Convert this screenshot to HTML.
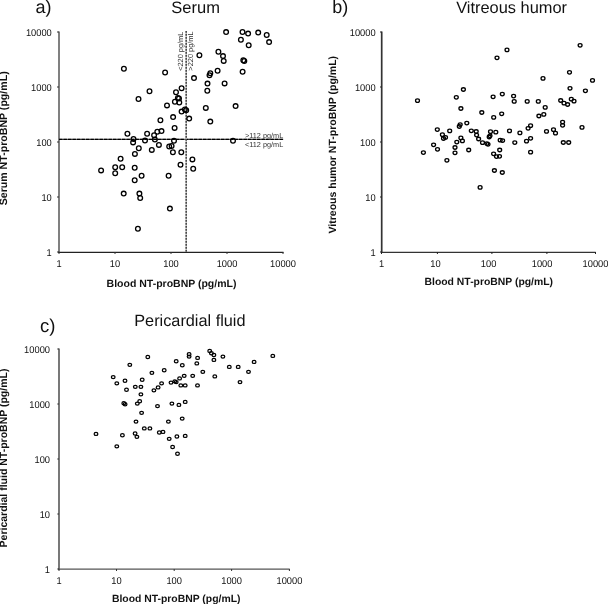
<!DOCTYPE html>
<html><head><meta charset="utf-8"><title>NT-proBNP scatter plots</title>
<style>
html,body{margin:0;padding:0;background:#fff;}
body{width:608px;height:604px;overflow:hidden;font-family:"Liberation Sans",sans-serif;}
svg{display:block;filter:grayscale(1);text-rendering:geometricPrecision;}
</style></head><body>
<svg width="608" height="604" viewBox="0 0 608 604" font-family="Liberation Sans, sans-serif">
<rect width="608" height="604" fill="#fff"/>
<g id="pa">
<text x="35.6" y="12.8" font-size="18" fill="#111">a)</text>
<text x="195.6" y="13.1" font-size="16.5" text-anchor="middle" fill="#111">Serum</text>
<line x1="59" y1="31.5" x2="59" y2="252.5" stroke="#7a7a7a" stroke-width="1.9"/>
<line x1="58" y1="252.4" x2="283.5" y2="252.4" stroke="#222" stroke-width="1.1"/>
<line x1="57" y1="32" x2="59" y2="32" stroke="#333" stroke-width="1"/>
<text transform="translate(51.8,35.5) scale(0.95,1)" font-size="9.8" text-anchor="end" fill="#111">10000</text>
<line x1="57" y1="87" x2="59" y2="87" stroke="#333" stroke-width="1"/>
<text transform="translate(51.8,90.5) scale(0.95,1)" font-size="9.8" text-anchor="end" fill="#111">1000</text>
<line x1="57" y1="142" x2="59" y2="142" stroke="#333" stroke-width="1"/>
<text transform="translate(51.8,145.5) scale(0.95,1)" font-size="9.8" text-anchor="end" fill="#111">100</text>
<line x1="57" y1="197" x2="59" y2="197" stroke="#333" stroke-width="1"/>
<text transform="translate(51.8,200.5) scale(0.95,1)" font-size="9.8" text-anchor="end" fill="#111">10</text>
<line x1="57" y1="252" x2="59" y2="252" stroke="#333" stroke-width="1"/>
<text transform="translate(51.8,255.5) scale(0.95,1)" font-size="9.8" text-anchor="end" fill="#111">1</text>
<line x1="59" y1="252" x2="59" y2="254" stroke="#333" stroke-width="1"/>
<text transform="translate(59,267.0) scale(0.95,1)" font-size="9.8" text-anchor="middle" fill="#111">1</text>
<line x1="115" y1="252" x2="115" y2="254" stroke="#333" stroke-width="1"/>
<text transform="translate(115,267.0) scale(0.95,1)" font-size="9.8" text-anchor="middle" fill="#111">10</text>
<line x1="171" y1="252" x2="171" y2="254" stroke="#333" stroke-width="1"/>
<text transform="translate(171,267.0) scale(0.95,1)" font-size="9.8" text-anchor="middle" fill="#111">100</text>
<line x1="227" y1="252" x2="227" y2="254" stroke="#333" stroke-width="1"/>
<text transform="translate(227,267.0) scale(0.95,1)" font-size="9.8" text-anchor="middle" fill="#111">1000</text>
<line x1="283" y1="252" x2="283" y2="254" stroke="#333" stroke-width="1"/>
<text transform="translate(283,267.0) scale(0.95,1)" font-size="9.8" text-anchor="middle" fill="#111">10000</text>
<text x="171.5" y="287.2" font-size="10.5" font-weight="bold" text-anchor="middle" fill="#111">Blood NT-proBNP (pg/mL)</text>
<text transform="translate(6.7,138.3) rotate(-90)" font-size="10.6" font-weight="bold" text-anchor="middle" fill="#111">Serum NT-proBNP (pg/mL)</text>
<line x1="59" y1="139.4" x2="283.2" y2="139.4" stroke="#555" stroke-width="1.1"/>
<line x1="59" y1="139.4" x2="283.2" y2="139.4" stroke="#000" stroke-width="1.1" stroke-dasharray="3.4 1.1"/>
<line x1="186.2" y1="31" x2="186.2" y2="252" stroke="#bbb" stroke-width="1.5"/>
<line x1="186.2" y1="31" x2="186.2" y2="252" stroke="#444" stroke-width="1.5" stroke-dasharray="1.8 1.2"/>
<text x="283.2" y="137.6" font-size="7.3" text-anchor="end" fill="#333">&gt;112 pg/mL</text>
<text x="283.2" y="147.0" font-size="7.3" text-anchor="end" fill="#333">&lt;112 pg/mL</text>
<text transform="translate(182.9,31.6) rotate(-90)" font-size="7.4" text-anchor="end" fill="#333">&lt;220 pg/mL</text>
<text transform="translate(192.9,31.4) rotate(-90)" font-size="7.4" text-anchor="end" fill="#333">&gt;220 pg/mL</text>
<g fill="none" stroke="#000" stroke-width="1.3">
<ellipse cx="123.9" cy="68.8" rx="2.35" ry="2.35"/>
<ellipse cx="165.1" cy="72.5" rx="2.35" ry="2.35"/>
<ellipse cx="149.5" cy="91.2" rx="2.35" ry="2.35"/>
<ellipse cx="138.5" cy="99.0" rx="2.35" ry="2.35"/>
<ellipse cx="167.0" cy="105.4" rx="2.35" ry="2.35"/>
<ellipse cx="160.4" cy="120.2" rx="2.35" ry="2.35"/>
<ellipse cx="127.4" cy="133.7" rx="2.35" ry="2.35"/>
<ellipse cx="147.1" cy="133.7" rx="2.35" ry="2.35"/>
<ellipse cx="157.3" cy="131.8" rx="2.35" ry="2.35"/>
<ellipse cx="161.5" cy="131.1" rx="2.35" ry="2.35"/>
<ellipse cx="154.1" cy="135.2" rx="2.35" ry="2.35"/>
<ellipse cx="226.1" cy="32.1" rx="2.35" ry="2.35"/>
<ellipse cx="242.5" cy="32.0" rx="2.35" ry="2.35"/>
<ellipse cx="248.1" cy="33.6" rx="2.35" ry="2.35"/>
<ellipse cx="258.2" cy="32.6" rx="2.35" ry="2.35"/>
<ellipse cx="266.7" cy="35.0" rx="2.35" ry="2.35"/>
<ellipse cx="269.1" cy="42.1" rx="2.35" ry="2.35"/>
<ellipse cx="240.9" cy="39.7" rx="2.35" ry="2.35"/>
<ellipse cx="248.7" cy="45.3" rx="2.35" ry="2.35"/>
<ellipse cx="218.4" cy="51.7" rx="2.35" ry="2.35"/>
<ellipse cx="223.0" cy="56.1" rx="2.35" ry="2.35"/>
<ellipse cx="223.7" cy="60.9" rx="2.35" ry="2.35"/>
<ellipse cx="243.3" cy="60.2" rx="2.35" ry="2.35"/>
<ellipse cx="244.3" cy="61.0" rx="2.35" ry="2.35"/>
<ellipse cx="199.4" cy="55.2" rx="2.35" ry="2.35"/>
<ellipse cx="217.6" cy="70.8" rx="2.35" ry="2.35"/>
<ellipse cx="210.3" cy="73.3" rx="2.35" ry="2.35"/>
<ellipse cx="209.5" cy="75.3" rx="2.35" ry="2.35"/>
<ellipse cx="242.6" cy="71.7" rx="2.35" ry="2.35"/>
<ellipse cx="194.0" cy="78.1" rx="2.35" ry="2.35"/>
<ellipse cx="207.5" cy="83.6" rx="2.35" ry="2.35"/>
<ellipse cx="224.6" cy="83.4" rx="2.35" ry="2.35"/>
<ellipse cx="207.3" cy="90.8" rx="2.35" ry="2.35"/>
<ellipse cx="181.6" cy="88.2" rx="2.35" ry="2.35"/>
<ellipse cx="176.0" cy="92.2" rx="2.35" ry="2.35"/>
<ellipse cx="177.9" cy="97.9" rx="2.35" ry="2.35"/>
<ellipse cx="179.0" cy="98.5" rx="2.35" ry="2.35"/>
<ellipse cx="174.9" cy="101.8" rx="2.35" ry="2.35"/>
<ellipse cx="179.3" cy="102.5" rx="2.35" ry="2.35"/>
<ellipse cx="205.8" cy="107.9" rx="2.35" ry="2.35"/>
<ellipse cx="235.6" cy="106.1" rx="2.35" ry="2.35"/>
<ellipse cx="184.9" cy="109.5" rx="2.35" ry="2.35"/>
<ellipse cx="186.2" cy="110.2" rx="2.35" ry="2.35"/>
<ellipse cx="181.6" cy="111.6" rx="2.35" ry="2.35"/>
<ellipse cx="173.1" cy="117.1" rx="2.35" ry="2.35"/>
<ellipse cx="189.2" cy="118.6" rx="2.35" ry="2.35"/>
<ellipse cx="210.3" cy="121.6" rx="2.35" ry="2.35"/>
<ellipse cx="174.6" cy="127.9" rx="2.35" ry="2.35"/>
<ellipse cx="174.0" cy="140.8" rx="2.35" ry="2.35"/>
<ellipse cx="233.0" cy="140.7" rx="2.35" ry="2.35"/>
<ellipse cx="133.5" cy="139.0" rx="2.35" ry="2.35"/>
<ellipse cx="133.1" cy="142.4" rx="2.35" ry="2.35"/>
<ellipse cx="145.0" cy="140.6" rx="2.35" ry="2.35"/>
<ellipse cx="154.9" cy="139.6" rx="2.35" ry="2.35"/>
<ellipse cx="158.9" cy="144.9" rx="2.35" ry="2.35"/>
<ellipse cx="169.2" cy="146.5" rx="2.35" ry="2.35"/>
<ellipse cx="171.6" cy="145.9" rx="2.35" ry="2.35"/>
<ellipse cx="172.9" cy="152.3" rx="2.35" ry="2.35"/>
<ellipse cx="138.8" cy="148.3" rx="2.35" ry="2.35"/>
<ellipse cx="151.8" cy="149.9" rx="2.35" ry="2.35"/>
<ellipse cx="134.9" cy="153.9" rx="2.35" ry="2.35"/>
<ellipse cx="120.6" cy="158.8" rx="2.35" ry="2.35"/>
<ellipse cx="115.2" cy="167.2" rx="2.35" ry="2.35"/>
<ellipse cx="122.2" cy="167.2" rx="2.35" ry="2.35"/>
<ellipse cx="134.7" cy="167.8" rx="2.35" ry="2.35"/>
<ellipse cx="101.1" cy="170.4" rx="2.35" ry="2.35"/>
<ellipse cx="115.2" cy="173.3" rx="2.35" ry="2.35"/>
<ellipse cx="141.6" cy="175.7" rx="2.35" ry="2.35"/>
<ellipse cx="168.6" cy="175.7" rx="2.35" ry="2.35"/>
<ellipse cx="134.7" cy="180.3" rx="2.35" ry="2.35"/>
<ellipse cx="123.7" cy="193.6" rx="2.35" ry="2.35"/>
<ellipse cx="139.4" cy="193.6" rx="2.35" ry="2.35"/>
<ellipse cx="140.2" cy="198.0" rx="2.35" ry="2.35"/>
<ellipse cx="169.9" cy="208.6" rx="2.35" ry="2.35"/>
<ellipse cx="137.9" cy="228.8" rx="2.35" ry="2.35"/>
<ellipse cx="181.3" cy="152.3" rx="2.35" ry="2.35"/>
<ellipse cx="192.4" cy="159.4" rx="2.35" ry="2.35"/>
<ellipse cx="180.5" cy="164.8" rx="2.35" ry="2.35"/>
<ellipse cx="193.2" cy="168.8" rx="2.35" ry="2.35"/>
</g>
</g>
<g id="pb">
<text x="332.2" y="12.8" font-size="18" fill="#111">b)</text>
<text x="511.6" y="12.6" font-size="16.4" text-anchor="middle" fill="#111">Vitreous humor</text>
<line x1="381.7" y1="31.5" x2="381.7" y2="252.5" stroke="#333" stroke-width="1.7"/>
<line x1="381" y1="252.3" x2="595.7" y2="252.3" stroke="#333" stroke-width="1.3"/>
<line x1="380" y1="32" x2="381.7" y2="32" stroke="#222" stroke-width="1"/>
<text transform="translate(375.6,35.5) scale(0.95,1)" font-size="9.8" text-anchor="end" fill="#111">10000</text>
<line x1="380" y1="87" x2="381.7" y2="87" stroke="#222" stroke-width="1"/>
<text transform="translate(375.6,90.5) scale(0.95,1)" font-size="9.8" text-anchor="end" fill="#111">1000</text>
<line x1="380" y1="142" x2="381.7" y2="142" stroke="#222" stroke-width="1"/>
<text transform="translate(375.6,145.5) scale(0.95,1)" font-size="9.8" text-anchor="end" fill="#111">100</text>
<line x1="380" y1="197" x2="381.7" y2="197" stroke="#222" stroke-width="1"/>
<text transform="translate(375.6,200.5) scale(0.95,1)" font-size="9.8" text-anchor="end" fill="#111">10</text>
<line x1="380" y1="252" x2="381.7" y2="252" stroke="#222" stroke-width="1"/>
<text transform="translate(375.6,255.5) scale(0.95,1)" font-size="9.8" text-anchor="end" fill="#111">1</text>
<line x1="381.5" y1="252" x2="381.5" y2="254" stroke="#222" stroke-width="1"/>
<line x1="437.4" y1="252" x2="437.4" y2="254" stroke="#222" stroke-width="1"/>
<line x1="491.9" y1="252" x2="491.9" y2="254" stroke="#222" stroke-width="1"/>
<line x1="546.9" y1="252" x2="546.9" y2="254" stroke="#222" stroke-width="1"/>
<line x1="595.5" y1="252" x2="595.5" y2="254" stroke="#222" stroke-width="1"/>
<text transform="translate(381.5,267.0) scale(0.95,1)" font-size="9.8" text-anchor="middle" fill="#111">1</text>
<text transform="translate(435.4,267.0) scale(0.95,1)" font-size="9.8" text-anchor="middle" fill="#111">10</text>
<text transform="translate(488.6,267.0) scale(0.95,1)" font-size="9.8" text-anchor="middle" fill="#111">100</text>
<text transform="translate(542.1,267.0) scale(0.95,1)" font-size="9.8" text-anchor="middle" fill="#111">1000</text>
<text transform="translate(595.5,267.0) scale(0.95,1)" font-size="9.8" text-anchor="middle" fill="#111">10000</text>
<text x="488.8" y="284.9" font-size="10.4" font-weight="bold" text-anchor="middle" fill="#111">Blood NT-proBNP (pg/mL)</text>
<text transform="translate(336.4,144.7) rotate(-90)" font-size="10.5" font-weight="bold" text-anchor="middle" fill="#111">Vitreous humor NT-proBNP (pg/mL)</text>
<g fill="none" stroke="#000" stroke-width="1.3">
<ellipse cx="417.5" cy="100.7" rx="1.95" ry="1.75"/>
<ellipse cx="456.3" cy="97.3" rx="1.95" ry="1.75"/>
<ellipse cx="437.3" cy="129.6" rx="1.95" ry="1.75"/>
<ellipse cx="449.7" cy="130.9" rx="1.95" ry="1.75"/>
<ellipse cx="442.4" cy="134.7" rx="1.95" ry="1.75"/>
<ellipse cx="445.5" cy="137.4" rx="1.95" ry="1.75"/>
<ellipse cx="443.5" cy="138.5" rx="1.95" ry="1.75"/>
<ellipse cx="433.6" cy="144.8" rx="1.95" ry="1.75"/>
<ellipse cx="437.5" cy="149.3" rx="1.95" ry="1.75"/>
<ellipse cx="423.4" cy="152.6" rx="1.95" ry="1.75"/>
<ellipse cx="446.9" cy="160.3" rx="1.95" ry="1.75"/>
<ellipse cx="507.0" cy="49.9" rx="1.95" ry="1.75"/>
<ellipse cx="497.0" cy="57.8" rx="1.95" ry="1.75"/>
<ellipse cx="463.4" cy="89.5" rx="1.95" ry="1.75"/>
<ellipse cx="493.1" cy="96.8" rx="1.95" ry="1.75"/>
<ellipse cx="502.3" cy="94.1" rx="1.95" ry="1.75"/>
<ellipse cx="513.6" cy="96.1" rx="1.95" ry="1.75"/>
<ellipse cx="514.2" cy="101.4" rx="1.95" ry="1.75"/>
<ellipse cx="527.2" cy="101.4" rx="1.95" ry="1.75"/>
<ellipse cx="580.1" cy="45.3" rx="1.95" ry="1.75"/>
<ellipse cx="569.5" cy="72.3" rx="1.95" ry="1.75"/>
<ellipse cx="543.0" cy="78.4" rx="1.95" ry="1.75"/>
<ellipse cx="592.5" cy="80.4" rx="1.95" ry="1.75"/>
<ellipse cx="570.0" cy="88.3" rx="1.95" ry="1.75"/>
<ellipse cx="585.4" cy="90.8" rx="1.95" ry="1.75"/>
<ellipse cx="538.3" cy="101.4" rx="1.95" ry="1.75"/>
<ellipse cx="560.7" cy="100.5" rx="1.95" ry="1.75"/>
<ellipse cx="571.3" cy="99.2" rx="1.95" ry="1.75"/>
<ellipse cx="574.0" cy="101.2" rx="1.95" ry="1.75"/>
<ellipse cx="564.0" cy="103.2" rx="1.95" ry="1.75"/>
<ellipse cx="567.6" cy="104.5" rx="1.95" ry="1.75"/>
<ellipse cx="460.9" cy="108.5" rx="1.95" ry="1.75"/>
<ellipse cx="481.8" cy="112.5" rx="1.95" ry="1.75"/>
<ellipse cx="493.7" cy="117.4" rx="1.95" ry="1.75"/>
<ellipse cx="501.7" cy="113.8" rx="1.95" ry="1.75"/>
<ellipse cx="466.8" cy="123.1" rx="1.95" ry="1.75"/>
<ellipse cx="460.2" cy="124.6" rx="1.95" ry="1.75"/>
<ellipse cx="459.3" cy="126.5" rx="1.95" ry="1.75"/>
<ellipse cx="471.3" cy="130.8" rx="1.95" ry="1.75"/>
<ellipse cx="476.2" cy="131.5" rx="1.95" ry="1.75"/>
<ellipse cx="476.6" cy="135.1" rx="1.95" ry="1.75"/>
<ellipse cx="478.6" cy="139.0" rx="1.95" ry="1.75"/>
<ellipse cx="482.5" cy="142.7" rx="1.95" ry="1.75"/>
<ellipse cx="486.9" cy="143.6" rx="1.95" ry="1.75"/>
<ellipse cx="488.0" cy="144.3" rx="1.95" ry="1.75"/>
<ellipse cx="490.5" cy="131.7" rx="1.95" ry="1.75"/>
<ellipse cx="495.8" cy="132.2" rx="1.95" ry="1.75"/>
<ellipse cx="490.0" cy="135.8" rx="1.95" ry="1.75"/>
<ellipse cx="489.2" cy="137.0" rx="1.95" ry="1.75"/>
<ellipse cx="509.5" cy="130.9" rx="1.95" ry="1.75"/>
<ellipse cx="519.9" cy="132.9" rx="1.95" ry="1.75"/>
<ellipse cx="500.2" cy="140.2" rx="1.95" ry="1.75"/>
<ellipse cx="502.6" cy="140.6" rx="1.95" ry="1.75"/>
<ellipse cx="514.8" cy="142.6" rx="1.95" ry="1.75"/>
<ellipse cx="528.1" cy="128.3" rx="1.95" ry="1.75"/>
<ellipse cx="526.5" cy="141.2" rx="1.95" ry="1.75"/>
<ellipse cx="460.9" cy="137.9" rx="1.95" ry="1.75"/>
<ellipse cx="462.4" cy="140.9" rx="1.95" ry="1.75"/>
<ellipse cx="456.8" cy="142.1" rx="1.95" ry="1.75"/>
<ellipse cx="455.0" cy="147.5" rx="1.95" ry="1.75"/>
<ellipse cx="455.0" cy="152.8" rx="1.95" ry="1.75"/>
<ellipse cx="468.7" cy="150.0" rx="1.95" ry="1.75"/>
<ellipse cx="499.7" cy="150.0" rx="1.95" ry="1.75"/>
<ellipse cx="493.6" cy="153.8" rx="1.95" ry="1.75"/>
<ellipse cx="496.5" cy="156.6" rx="1.95" ry="1.75"/>
<ellipse cx="499.5" cy="156.3" rx="1.95" ry="1.75"/>
<ellipse cx="545.2" cy="107.4" rx="1.95" ry="1.75"/>
<ellipse cx="543.8" cy="114.4" rx="1.95" ry="1.75"/>
<ellipse cx="538.9" cy="116.0" rx="1.95" ry="1.75"/>
<ellipse cx="530.6" cy="125.7" rx="1.95" ry="1.75"/>
<ellipse cx="546.5" cy="131.4" rx="1.95" ry="1.75"/>
<ellipse cx="553.5" cy="129.7" rx="1.95" ry="1.75"/>
<ellipse cx="555.5" cy="133.2" rx="1.95" ry="1.75"/>
<ellipse cx="562.6" cy="122.1" rx="1.95" ry="1.75"/>
<ellipse cx="562.6" cy="125.3" rx="1.95" ry="1.75"/>
<ellipse cx="582.0" cy="127.4" rx="1.95" ry="1.75"/>
<ellipse cx="530.6" cy="138.3" rx="1.95" ry="1.75"/>
<ellipse cx="563.3" cy="142.5" rx="1.95" ry="1.75"/>
<ellipse cx="568.7" cy="142.5" rx="1.95" ry="1.75"/>
<ellipse cx="530.6" cy="152.2" rx="1.95" ry="1.75"/>
<ellipse cx="494.4" cy="170.5" rx="1.95" ry="1.75"/>
<ellipse cx="502.3" cy="172.5" rx="1.95" ry="1.75"/>
<ellipse cx="480.1" cy="187.4" rx="1.95" ry="1.75"/>
</g>
</g>
<g id="pc">
<text x="40.0" y="331.5" font-size="18.5" fill="#111">c)</text>
<text x="189.9" y="326.2" font-size="16.3" text-anchor="middle" fill="#111">Pericardial fluid</text>
<line x1="59" y1="348.5" x2="59" y2="569.5" stroke="#6a6a6a" stroke-width="1.8"/>
<line x1="58" y1="569.1" x2="289.7" y2="569.1" stroke="#555" stroke-width="1.4"/>
<line x1="57.3" y1="349" x2="59" y2="349" stroke="#333" stroke-width="1"/>
<text transform="translate(50.0,352.7) scale(0.95,1)" font-size="9.8" text-anchor="end" fill="#111">10000</text>
<line x1="57.3" y1="404" x2="59" y2="404" stroke="#333" stroke-width="1"/>
<text transform="translate(50.0,407.7) scale(0.95,1)" font-size="9.8" text-anchor="end" fill="#111">1000</text>
<line x1="57.3" y1="459" x2="59" y2="459" stroke="#333" stroke-width="1"/>
<text transform="translate(50.0,462.7) scale(0.95,1)" font-size="9.8" text-anchor="end" fill="#111">100</text>
<line x1="57.3" y1="514" x2="59" y2="514" stroke="#333" stroke-width="1"/>
<text transform="translate(50.0,517.7) scale(0.95,1)" font-size="9.8" text-anchor="end" fill="#111">10</text>
<line x1="57.3" y1="569" x2="59" y2="569" stroke="#333" stroke-width="1"/>
<text transform="translate(50.0,572.7) scale(0.95,1)" font-size="9.8" text-anchor="end" fill="#111">1</text>
<line x1="59" y1="569" x2="59" y2="571" stroke="#333" stroke-width="1"/>
<text transform="translate(59,583.5) scale(0.95,1)" font-size="9.8" text-anchor="middle" fill="#111">1</text>
<line x1="116.5" y1="569" x2="116.5" y2="571" stroke="#333" stroke-width="1"/>
<text transform="translate(116.5,583.5) scale(0.95,1)" font-size="9.8" text-anchor="middle" fill="#111">10</text>
<line x1="174.2" y1="569" x2="174.2" y2="571" stroke="#333" stroke-width="1"/>
<text transform="translate(174.2,583.5) scale(0.95,1)" font-size="9.8" text-anchor="middle" fill="#111">100</text>
<line x1="231.6" y1="569" x2="231.6" y2="571" stroke="#333" stroke-width="1"/>
<text transform="translate(231.6,583.5) scale(0.95,1)" font-size="9.8" text-anchor="middle" fill="#111">1000</text>
<line x1="289.4" y1="569" x2="289.4" y2="571" stroke="#333" stroke-width="1"/>
<text transform="translate(289.4,583.5) scale(0.95,1)" font-size="9.8" text-anchor="middle" fill="#111">10000</text>
<text x="176.2" y="601.8" font-size="10.4" font-weight="bold" text-anchor="middle" fill="#111">Blood NT-proBNP (pg/mL)</text>
<text transform="translate(7.4,458.0) rotate(-90)" font-size="10.5" font-weight="bold" text-anchor="middle" fill="#111">Pericardial fluid NT-proBNP (pg/mL)</text>
<g fill="none" stroke="#000" stroke-width="1.25">
<ellipse cx="147.8" cy="357.0" rx="1.85" ry="1.55"/>
<ellipse cx="129.8" cy="364.8" rx="1.85" ry="1.55"/>
<ellipse cx="164.2" cy="370.2" rx="1.85" ry="1.55"/>
<ellipse cx="151.9" cy="372.8" rx="1.85" ry="1.55"/>
<ellipse cx="113.2" cy="377.1" rx="1.85" ry="1.55"/>
<ellipse cx="116.8" cy="383.3" rx="1.85" ry="1.55"/>
<ellipse cx="125.0" cy="380.7" rx="1.85" ry="1.55"/>
<ellipse cx="142.2" cy="379.7" rx="1.85" ry="1.55"/>
<ellipse cx="135.3" cy="386.8" rx="1.85" ry="1.55"/>
<ellipse cx="140.9" cy="386.8" rx="1.85" ry="1.55"/>
<ellipse cx="126.5" cy="389.7" rx="1.85" ry="1.55"/>
<ellipse cx="161.6" cy="383.3" rx="1.85" ry="1.55"/>
<ellipse cx="158.1" cy="387.4" rx="1.85" ry="1.55"/>
<ellipse cx="153.9" cy="390.3" rx="1.85" ry="1.55"/>
<ellipse cx="140.9" cy="394.3" rx="1.85" ry="1.55"/>
<ellipse cx="123.8" cy="403.2" rx="1.85" ry="1.55"/>
<ellipse cx="125.1" cy="404.2" rx="1.85" ry="1.55"/>
<ellipse cx="139.7" cy="401.2" rx="1.85" ry="1.55"/>
<ellipse cx="137.3" cy="403.6" rx="1.85" ry="1.55"/>
<ellipse cx="157.5" cy="406.1" rx="1.85" ry="1.55"/>
<ellipse cx="141.6" cy="412.8" rx="1.85" ry="1.55"/>
<ellipse cx="136.0" cy="421.6" rx="1.85" ry="1.55"/>
<ellipse cx="209.7" cy="350.9" rx="1.85" ry="1.55"/>
<ellipse cx="211.4" cy="353.2" rx="1.85" ry="1.55"/>
<ellipse cx="213.9" cy="355.0" rx="1.85" ry="1.55"/>
<ellipse cx="213.9" cy="359.9" rx="1.85" ry="1.55"/>
<ellipse cx="222.9" cy="356.6" rx="1.85" ry="1.55"/>
<ellipse cx="189.1" cy="354.2" rx="1.85" ry="1.55"/>
<ellipse cx="189.1" cy="356.6" rx="1.85" ry="1.55"/>
<ellipse cx="197.6" cy="357.9" rx="1.85" ry="1.55"/>
<ellipse cx="196.8" cy="363.4" rx="1.85" ry="1.55"/>
<ellipse cx="176.2" cy="361.2" rx="1.85" ry="1.55"/>
<ellipse cx="182.3" cy="365.2" rx="1.85" ry="1.55"/>
<ellipse cx="202.8" cy="371.8" rx="1.85" ry="1.55"/>
<ellipse cx="229.3" cy="366.9" rx="1.85" ry="1.55"/>
<ellipse cx="238.2" cy="366.9" rx="1.85" ry="1.55"/>
<ellipse cx="184.2" cy="375.8" rx="1.85" ry="1.55"/>
<ellipse cx="192.7" cy="375.8" rx="1.85" ry="1.55"/>
<ellipse cx="214.8" cy="376.4" rx="1.85" ry="1.55"/>
<ellipse cx="179.6" cy="378.4" rx="1.85" ry="1.55"/>
<ellipse cx="171.0" cy="382.6" rx="1.85" ry="1.55"/>
<ellipse cx="174.8" cy="381.3" rx="1.85" ry="1.55"/>
<ellipse cx="176.2" cy="382.1" rx="1.85" ry="1.55"/>
<ellipse cx="180.8" cy="385.4" rx="1.85" ry="1.55"/>
<ellipse cx="185.2" cy="385.4" rx="1.85" ry="1.55"/>
<ellipse cx="197.5" cy="385.4" rx="1.85" ry="1.55"/>
<ellipse cx="240.0" cy="382.1" rx="1.85" ry="1.55"/>
<ellipse cx="171.9" cy="403.6" rx="1.85" ry="1.55"/>
<ellipse cx="178.9" cy="404.9" rx="1.85" ry="1.55"/>
<ellipse cx="185.2" cy="401.9" rx="1.85" ry="1.55"/>
<ellipse cx="182.2" cy="418.6" rx="1.85" ry="1.55"/>
<ellipse cx="168.4" cy="421.6" rx="1.85" ry="1.55"/>
<ellipse cx="272.8" cy="355.9" rx="1.85" ry="1.55"/>
<ellipse cx="254.1" cy="361.9" rx="1.85" ry="1.55"/>
<ellipse cx="248.5" cy="371.8" rx="1.85" ry="1.55"/>
<ellipse cx="144.3" cy="428.4" rx="1.85" ry="1.55"/>
<ellipse cx="149.9" cy="428.4" rx="1.85" ry="1.55"/>
<ellipse cx="96.0" cy="433.9" rx="1.85" ry="1.55"/>
<ellipse cx="122.4" cy="435.2" rx="1.85" ry="1.55"/>
<ellipse cx="135.1" cy="433.5" rx="1.85" ry="1.55"/>
<ellipse cx="136.9" cy="436.8" rx="1.85" ry="1.55"/>
<ellipse cx="159.3" cy="432.5" rx="1.85" ry="1.55"/>
<ellipse cx="163.0" cy="431.9" rx="1.85" ry="1.55"/>
<ellipse cx="116.8" cy="446.3" rx="1.85" ry="1.55"/>
<ellipse cx="169.2" cy="438.8" rx="1.85" ry="1.55"/>
<ellipse cx="176.9" cy="436.5" rx="1.85" ry="1.55"/>
<ellipse cx="185.2" cy="435.9" rx="1.85" ry="1.55"/>
<ellipse cx="172.6" cy="447.0" rx="1.85" ry="1.55"/>
<ellipse cx="177.5" cy="453.7" rx="1.85" ry="1.55"/>
</g>
</g>
</svg>
</body></html>
